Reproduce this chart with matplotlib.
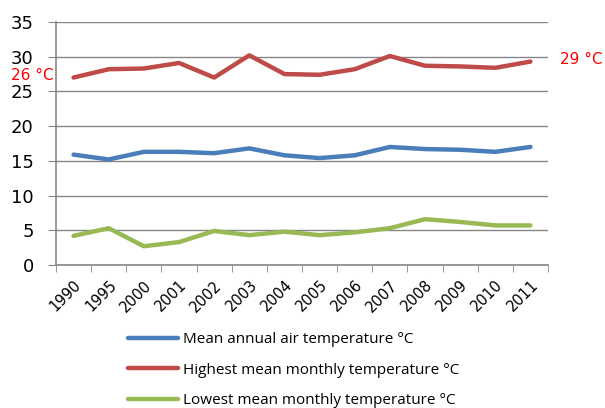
import matplotlib
matplotlib.use("Agg")
import matplotlib.pyplot as plt
import numpy as np

years = ["1990", "1995", "2000", "2001", "2002", "2003", "2004", "2005",
         "2006", "2007", "2008", "2009", "2010", "2011"]
mean_annual = [15.9, 15.2, 16.3, 16.3, 16.1, 16.8, 15.8, 15.4, 15.8, 17.0, 16.7, 16.6, 16.3, 17.0]
highest_monthly = [27.0, 28.2, 28.3, 29.1, 27.0, 30.2, 27.5, 27.4, 28.2, 30.1, 28.7, 28.6, 28.4, 29.3]
lowest_monthly = [4.2, 5.3, 2.7, 3.3, 4.9, 4.3, 4.8, 4.3, 4.7, 5.3, 6.6, 6.2, 5.7, 5.7]
series_names = ["Mean annual air temperature °C",
                "Highest mean monthly temperature °C",
                "Lowest mean monthly temperature °C"]
left_note = "26 °C"
right_note = "29 °C"

colors = ["#4A7EBB", "#BE4B48", "#98B954"]

fig = plt.figure(figsize=(6.05, 4.08), dpi=100)
ax = fig.add_axes([56/605, 1-265/408, (548-56)/605, (265-22)/408])

x = np.arange(len(years))
for vals, c, name in zip([mean_annual, highest_monthly, lowest_monthly], colors, series_names):
    ax.plot(x, vals, color=c, lw=3.2, label=name, solid_capstyle="round")

ax.set_xlim(-0.5, len(years) - 0.5)
ax.set_ylim(0, 35)
ax.set_yticks(np.arange(0, 36, 5))
ax.tick_params(axis="y", labelsize=13, length=6, color="#868686", pad=10)
ax.yaxis.grid(True, color="#868686", lw=1)
ax.set_axisbelow(True)
ax.set_xticks(x)
ax.set_xticklabels(years, rotation=45, ha="right", rotation_mode="anchor", fontsize=10.5)
ax.set_xticks(np.arange(-0.5, len(years), 1), minor=True)
ax.tick_params(axis="x", which="major", length=0, pad=9)
ax.tick_params(axis="x", which="minor", length=5, color="#868686")
for s in ["top", "right"]:
    ax.spines[s].set_visible(False)
for s in ["left", "bottom"]:
    ax.spines[s].set_color("#868686")
    ax.spines[s].set_linewidth(1.2)

fig.text(11/605, 1-75/408, left_note, color="red", fontsize=11, va="center", ha="left")
fig.text(560/605, 1-59/408, right_note, color="red", fontsize=11, va="center", ha="left")

handles, labels = ax.get_legend_handles_labels()
leg = fig.legend(handles, labels, loc="upper left", bbox_to_anchor=(128/605, 1-332/408),
                 frameon=False, handlelength=3.3, handletextpad=0.3,
                 borderpad=0, borderaxespad=0,
                 labelspacing=1.02, prop={"family": "Open Sans", "size": 11})

fig.savefig("out.png", dpi=100)
